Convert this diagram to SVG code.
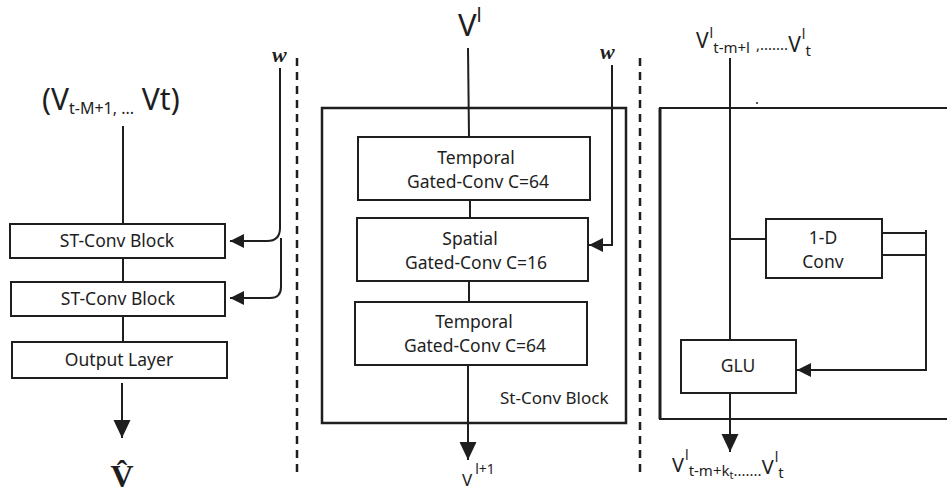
<svg xmlns="http://www.w3.org/2000/svg" width="947" height="493" viewBox="0 0 947 493">
<defs>
<style>
.bx{fill:#fff;stroke:#1e1e1e;stroke-width:2}
.frame{fill:none;stroke:#1e1e1e;stroke-width:2.5}
.ln{fill:none;stroke:#1e1e1e;stroke-width:2}
.dash{fill:none;stroke:#1e1e1e;stroke-width:2.5;stroke-dasharray:8 6}
.t{font-family:"Noto Sans","Open Sans",sans-serif;font-size:17.5px;fill:#1e1e1e;text-anchor:middle}
.m{font-family:"Noto Sans","Open Sans",sans-serif;fill:#1e1e1e}
.w{font-family:"Liberation Serif",serif;font-weight:bold;font-style:italic;font-size:22px;fill:#1e1e1e}
</style>
<marker id="a" markerUnits="userSpaceOnUse" markerWidth="14" markerHeight="14" refX="14" refY="7" orient="auto"><path d="M0,0 L14,7 L0,14 z" fill="#1e1e1e"/></marker>
<marker id="b" markerUnits="userSpaceOnUse" markerWidth="18" markerHeight="18" refX="18" refY="8.5" orient="auto"><path d="M0,0 L18,8.5 L0,17 z" fill="#1e1e1e"/></marker>
</defs>
<rect width="947" height="493" fill="#fff"/>
<g id="dividers">
<line class="dash" x1="297" y1="58" x2="297" y2="478"/>
<line class="dash" x1="640" y1="58" x2="640" y2="478"/>
</g>
<g id="connectors">
<line class="ln" x1="123" y1="126" x2="123" y2="224"/>
<line class="ln" x1="123" y1="258" x2="123" y2="282"/>
<line class="ln" x1="123" y1="316" x2="123" y2="342"/>
<line class="ln" x1="122" y1="383" x2="122" y2="438" stroke-width="2.5" marker-end="url(#b)"/>
<path class="ln" d="M280,68 L280,228 Q280,241 267,241 L230,241" stroke-width="2.5" marker-end="url(#a)"/>
<path class="ln" d="M281,238 L281,287 Q281,298 270,298 L230,298" stroke-width="2.5" marker-end="url(#a)"/>
<line class="ln" x1="468" y1="48" x2="469" y2="137"/>
<line class="ln" x1="470" y1="200" x2="470" y2="218"/>
<line class="ln" x1="469" y1="281" x2="469" y2="302"/>
<line class="ln" x1="468" y1="365" x2="468" y2="460" stroke-width="2.5" marker-end="url(#b)"/>
<path class="ln" d="M612,65 L612,245 L589,245" marker-end="url(#a)"/>
<line class="ln" x1="730" y1="58" x2="730" y2="340"/>
<line class="ln" x1="731" y1="239" x2="766" y2="239"/>
<path class="ln" d="M882,233 L926,233 M882,255 L926,255 M926,230 L926,370 L797,370" marker-end="url(#a)"/>
<line class="ln" x1="730" y1="393" x2="730" y2="452" marker-end="url(#b)"/>
</g>
<g id="input-left">
<text class="m" x="42" y="110" font-size="30">(V<tspan font-size="16" dy="4">t-M+1, ...</tspan><tspan dy="-4" font-size="30"> Vt)</tspan></text>
</g>
<g id="w-left"><text class="w" x="272" y="62">w</text></g>
<g id="st-conv-1"><rect class="bx" x="10" y="224" width="215" height="34"/><text class="t" x="117" y="247">ST-Conv Block</text></g>
<g id="st-conv-2"><rect class="bx" x="11" y="282" width="214" height="34"/><text class="t" x="118" y="305">ST-Conv Block</text></g>
<g id="output-layer"><rect class="bx" x="12" y="342" width="215" height="36"/><text class="t" x="119" y="366">Output Layer</text></g>
<g id="vhat"><text x="122" y="487" font-family="Liberation Serif,serif" font-weight="bold" font-size="32" text-anchor="middle" fill="#1e1e1e">V&#x302;</text></g>
<g id="vl-top"><text class="m" x="458" y="36" font-size="31">V<tspan font-size="20" dy="-14">l</tspan></text></g>
<g id="w-mid"><text class="w" x="600" y="59">w</text></g>
<g id="st-conv-block"><rect class="frame" x="322" y="108" width="304" height="315"/><text class="m" x="500" y="404" font-size="17">St-Conv Block</text></g>
<g id="temporal-1"><rect class="bx" x="358" y="137" width="232" height="63"/><text class="t" x="476" y="164">Temporal</text><text class="t" x="478" y="188">Gated-Conv C=64</text></g>
<g id="spatial"><rect class="bx" x="357" y="218" width="231" height="63"/><text class="t" x="470" y="245">Spatial</text><text class="t" x="476" y="269">Gated-Conv C=16</text></g>
<g id="temporal-2"><rect class="bx" x="355" y="302" width="232" height="63"/><text class="t" x="474" y="328">Temporal</text><text class="t" x="475" y="352">Gated-Conv C=64</text></g>
<g id="vl1"><text class="m" x="462" y="486" font-size="17">V<tspan font-size="14" dy="-12" dx="3">l+1</tspan></text></g>
<g id="input-right"><text class="m" x="696" y="48" font-size="21">V<tspan font-size="14" dy="-10" dx="1">l</tspan><tspan font-size="15" dy="15">t-m+l</tspan><tspan font-size="15" dx="6" dy="-3">,.......</tspan><tspan font-size="21" dy="2">V</tspan><tspan font-size="14" dy="-13" dx="1">l</tspan><tspan font-size="15" dy="17">t</tspan></text>
<circle cx="757" cy="103" r="1" fill="#1e1e1e"/></g>
<g id="temporal-block"><path class="ln" d="M947,108 L660,108 L660,419 L947,419"/><line x1="660" y1="108" x2="660" y2="419" stroke="#1e1e1e" stroke-width="3"/></g>
<g id="conv1d"><rect class="bx" x="766" y="219" width="116" height="59"/><text class="t" x="823" y="244">1-D</text><text class="t" x="823" y="268">Conv</text></g>
<g id="glu"><rect class="bx" x="681" y="340" width="115" height="53"/><text class="t" x="738" y="372">GLU</text></g>
<g id="output-right"><text class="m" x="672" y="472" font-size="20">V<tspan font-size="14" dy="-12" dx="1">l</tspan><tspan font-size="15" dy="16">t-m+k</tspan><tspan font-size="11" dy="3">t</tspan><tspan font-size="15" dy="-3">.......</tspan><tspan font-size="20" dy="-2">V</tspan><tspan font-size="14" dy="-12" dx="1">l</tspan><tspan font-size="15" dy="16">t</tspan></text></g>
</svg>
